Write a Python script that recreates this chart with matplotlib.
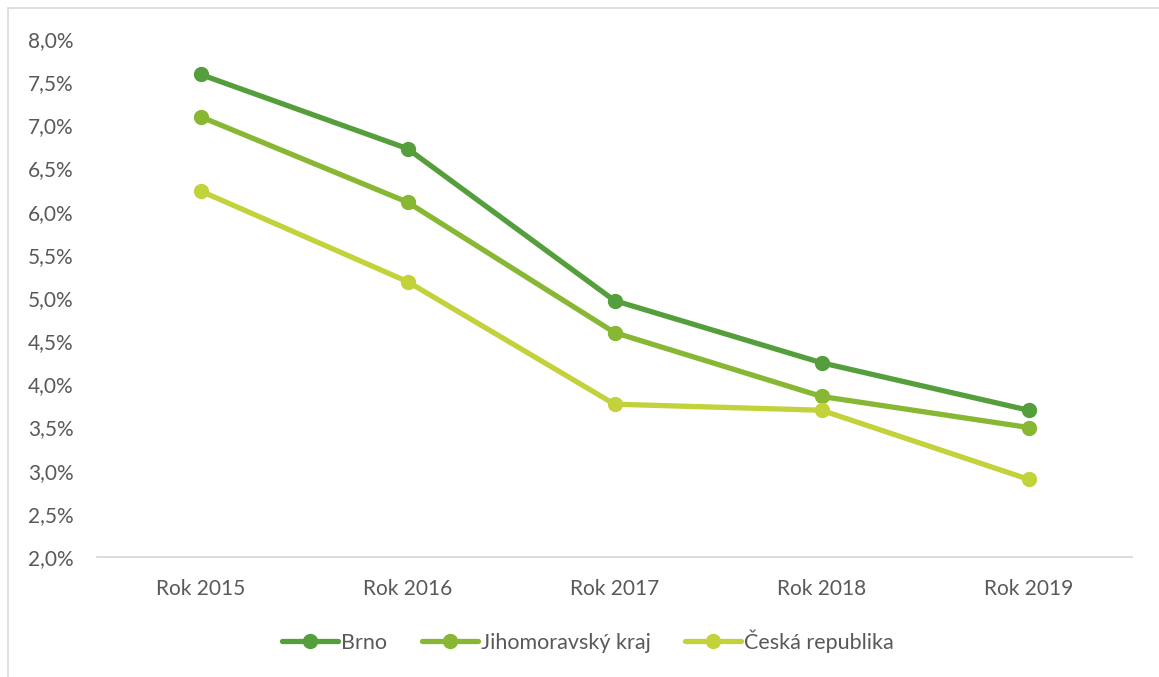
import matplotlib.pyplot as plt
from matplotlib.patches import Rectangle
from matplotlib.ticker import FuncFormatter

# Míra nezaměstnanosti po letech
roky = ["Rok 2015", "Rok 2016", "Rok 2017", "Rok 2018", "Rok 2019"]
brno = [7.59, 6.73, 4.97, 4.25, 3.70]
jihomoravsky = [7.10, 6.11, 4.60, 3.86, 3.50]
cr = [6.24, 5.19, 3.77, 3.70, 2.90]

nazvy = ["Brno", "Jihomoravský kraj", "Česká republika"]
barvy = ["#559E3C", "#88B733", "#C3D13B"]

plt.rcParams['font.family'] = ['Lato', 'DejaVu Sans']

fig = plt.figure(figsize=(11.59, 6.77), dpi=100)
ax = fig.add_axes([97 / 1159, 1 - 557 / 677, (1132 - 97) / 1159, (557 - 39) / 677])

# rámeček kolem celého grafu
fig.patches.append(Rectangle((8 / 1159, -0.05), 1.2, 1 - 8 / 677 + 0.05,
                             transform=fig.transFigure, fill=False,
                             edgecolor="#D9D9D9", linewidth=1.2))

x = range(len(roky))
for data, nazev, barva in zip([brno, jihomoravsky, cr], nazvy, barvy):
    ax.plot(x, data, color=barva, linewidth=3.8, marker="o", markersize=10,
            label=nazev, solid_capstyle="round")

ax.set_xlim(-0.5, len(roky) - 0.5)
ax.set_ylim(2.0, 8.0)
ax.set_yticks([2.0 + 0.5 * i for i in range(13)])
ax.yaxis.set_major_formatter(FuncFormatter(lambda v, p: f"{v:.1f}%".replace(".", ",")))
ax.set_xticks(list(x))
ax.set_xticklabels(roky)

for s in ["top", "right", "left"]:
    ax.spines[s].set_visible(False)
ax.spines["bottom"].set_color("#D9D9D9")
ax.spines["bottom"].set_linewidth(1.3)

ax.tick_params(axis="y", length=0, pad=17, labelsize=15, labelcolor="#595959")
ax.tick_params(axis="x", length=0, pad=16, labelsize=15, labelcolor="#595959")

fig.legend(loc="center", bbox_to_anchor=(588 / 1159, 1 - 641 / 677), ncol=3,
           frameon=False, fontsize=15.5, labelcolor="#595959", handlelength=2.6,
           handletextpad=0.15, columnspacing=1.6)

fig.savefig("out.png", dpi=100)
